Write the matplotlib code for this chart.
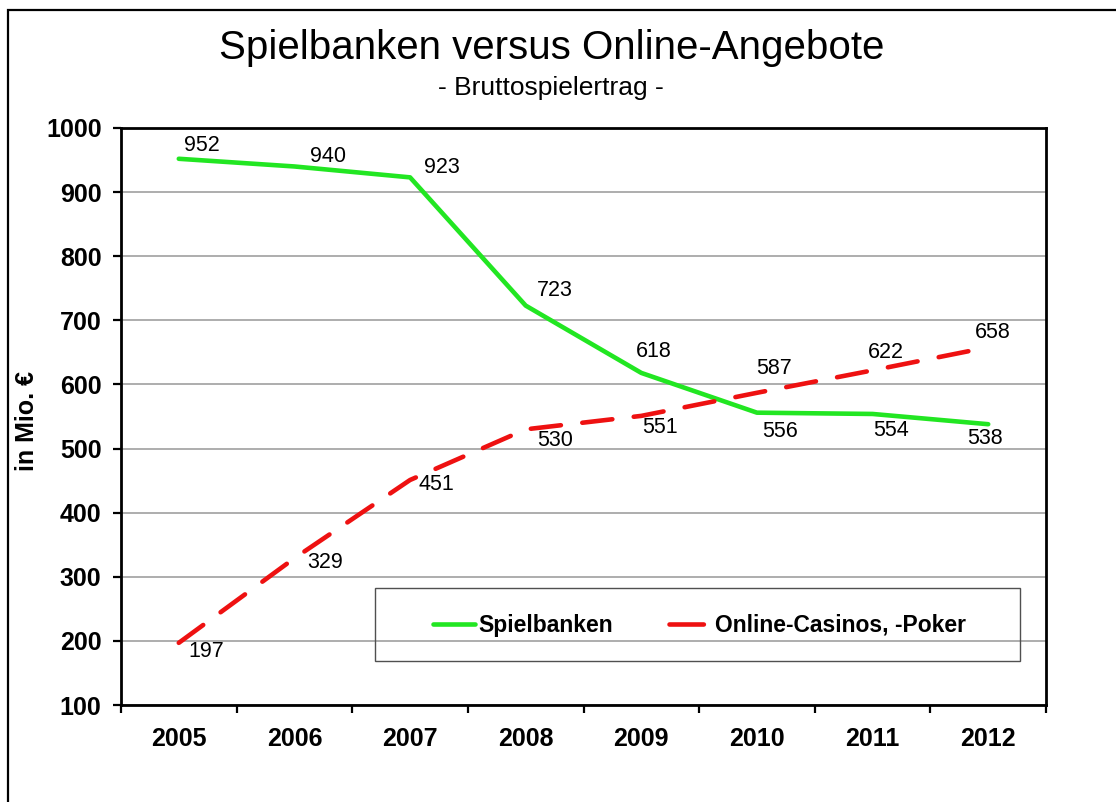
import matplotlib
matplotlib.use("Agg")
import matplotlib.pyplot as plt
from matplotlib.patches import Rectangle
from matplotlib.lines import Line2D

years = ["2005", "2006", "2007", "2008", "2009", "2010", "2011", "2012"]
spielbanken = [952, 940, 923, 723, 618, 556, 554, 538]
online = [197, 329, 451, 530, 551, 587, 622, 658]

# label offsets in pixels (dx, dy)
off_green = [(23, 13), (34, 10), (32, 10), (29, 15), (12, 21), (23, -19), (18, -17), (-3, -14)]
off_red = [(27, -9), (31, -4), (26, -5), (29, -11), (19, -12), (17, 24), (13, 18), (5, 15)]

plt.rcParams['font.family'] = ['Liberation Sans', 'DejaVu Sans']

fig = plt.figure(figsize=(11.16, 8.02), dpi=100)
ax = fig.add_axes([0.1084, 0.1209, 0.8289, 0.7195])

# outer frame (runs off the right and bottom edge)
fig.patches.append(Rectangle((8 / 1116, -0.2), 1.2, 1.2 - 10 / 802,
                             transform=fig.transFigure, fill=False,
                             edgecolor='black', linewidth=1.6))

x = list(range(len(years)))
green = '#22e622'
red = '#ee1111'
l1, = ax.plot(x, spielbanken, color=green, lw=3.3, solid_capstyle='round',
              label='Spielbanken', zorder=3)
ax.plot(x, online, color=red, lw=3.3, dashes=(6.6, 4.7), dash_capstyle='round',
        zorder=3)

for i, v in enumerate(spielbanken):
    ax.annotate(str(v), (i, v), xytext=off_green[i], textcoords='offset pixels',
                ha='center', va='center', fontsize=15.5, zorder=4)
for i, v in enumerate(online):
    ax.annotate(str(v), (i, v), xytext=off_red[i], textcoords='offset pixels',
                ha='center', va='center', fontsize=15.5, zorder=4)

ax.set_xlim(-0.5, len(years) - 0.5)
ax.set_ylim(100, 1000)
ax.set_yticks(range(100, 1001, 100))
ax.set_xticks(x)
ax.set_xticklabels(years, fontsize=18, fontweight='bold')
ax.set_xticks([i + 0.5 for i in range(-1, len(years))], minor=True)
ax.tick_params(axis='x', which='major', length=0, pad=16)
ax.tick_params(axis='x', which='minor', length=6, width=1.6, direction='out')
ax.tick_params(axis='y', length=6, width=1.6, direction='out', pad=8)
for lab in ax.get_yticklabels():
    lab.set_fontsize(18)
    lab.set_fontweight('bold')

ax.grid(axis='y', color='#a0a0a0', lw=1.2)
ax.set_axisbelow(True)
for s in ax.spines.values():
    s.set_linewidth(2)
    s.set_color('black')

fig.text(27 / 1116, 0.475, 'in Mio. €', rotation=90, ha='center', va='center',
         fontsize=18, fontweight='bold')

fig.text(0.494, 0.940, 'Spielbanken versus Online-Angebote', ha='center',
         va='center', fontsize=29)
fig.text(0.494, 0.890, '- Bruttospielertrag -', ha='center', va='center',
         fontsize=19)

# legend box
ax.add_patch(Rectangle((0.2746, 0.0763), 0.6974, 0.1265, transform=ax.transAxes,
                       fill=False, edgecolor='#505050', lw=1.0, zorder=5))
# the red legend sample shows just one dash followed by a gap
red_handle = Line2D([], [], color=red, lw=3.3, dashes=(7.5, 20),
                    dash_capstyle='round')
leg = ax.legend([l1, red_handle], ['Spielbanken', 'Online-Casinos, -Poker'],
                loc='center left', bbox_to_anchor=(0.337, 0.1386), ncol=2,
                frameon=False, prop={'size': 16.5, 'weight': 'bold'},
                borderpad=0, borderaxespad=0,
                handlelength=1.83, handletextpad=0.17, columnspacing=2.45)

fig.savefig('out.png', dpi=100)
